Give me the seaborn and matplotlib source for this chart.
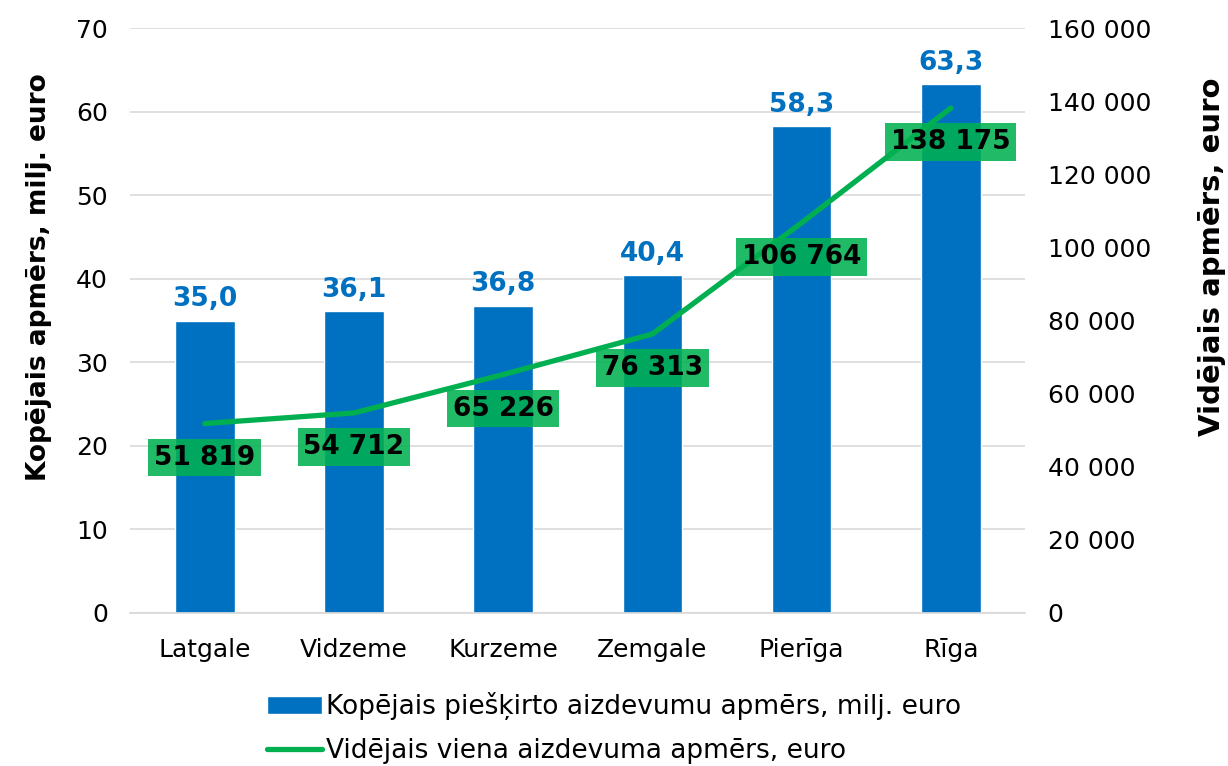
import matplotlib
matplotlib.use("Agg")
import matplotlib.pyplot as plt
import seaborn as sns
import pandas as pd
from matplotlib.ticker import FuncFormatter

regions = ["Latgale", "Vidzeme", "Kurzeme", "Zemgale", "Pierīga", "Rīga"]
total_mln = [35.0, 36.1, 36.8, 40.4, 58.3, 63.3]
avg_loan = [51819, 54712, 65226, 76313, 106764, 138175]

bar_label = "Kopējais piešķirto aizdevumu apmērs, milj. euro"
line_label = "Vidējais viena aizdevuma apmērs, euro"

df = pd.DataFrame({"region": regions, "total": total_mln, "avg": avg_loan})

sns.set_theme(style="white")
plt.rcParams['font.family'] = ['DejaVu Sans']

blue = "#0070C0"
green = "#00B050"

fig = plt.figure(figsize=(12.28, 7.66), dpi=100)
ax = fig.add_axes([0.106, 0.2, 0.729, 0.763])

sns.barplot(data=df, x="region", y="total", color=blue, saturation=1,
            width=0.4, ax=ax, label=bar_label, zorder=2)
ax.set_ylim(0, 70)
ax.set_yticks(range(0, 71, 10))
ax.yaxis.grid(True, color="#D9D9D9", lw=1.2, zorder=0)
ax.set_axisbelow(True)
for s in ax.spines.values():
    s.set_visible(False)
ax.spines["bottom"].set_visible(True)
ax.spines["bottom"].set_color("#D9D9D9")
ax.tick_params(axis="y", length=0, labelsize=18, pad=16, labelcolor="black")
ax.tick_params(axis="x", length=0, labelsize=18, pad=18, labelcolor="black")
ax.set_xlabel("")
ax.set_ylabel("Kopējais apmērs, milj. euro", fontsize=19, fontweight="bold", color="black")
ax.yaxis.set_label_coords(-0.087, 0.574)

# vērtības virs stabiņiem
for i, v in enumerate(total_mln):
    ax.annotate(f"{v:.1f}".replace(".", ","), (i, v), xytext=(0, 6),
                textcoords="offset points", ha="center", va="bottom",
                color=blue, fontsize=19, fontweight="bold")

ax2 = ax.twinx()
sns.lineplot(x=list(range(len(regions))), y=avg_loan, color=green, lw=3.8,
             ax=ax2, label=line_label, zorder=3)
ax2.set_ylim(0, 160000)
ax2.set_yticks(range(0, 160001, 20000))
ax2.yaxis.set_major_formatter(FuncFormatter(lambda v, p: f"{int(v):,}".replace(",", " ")))
for s in ax2.spines.values():
    s.set_visible(False)
ax2.tick_params(axis="both", length=0, labelsize=18, pad=16, labelcolor="black")
ax2.set_ylabel("Vidējais apmērs, euro", fontsize=21, fontweight="bold", color="black")
ax2.yaxis.set_label_coords(1.193, 0.61)
ax2.grid(False)

# vidējā aizdevuma etiķetes zem punktiem
for i, v in enumerate(avg_loan):
    ax2.annotate(f"{v:,}".replace(",", " "), (i, v), xytext=(0, -24.5),
                 textcoords="offset points", ha="center", va="center",
                 fontsize=19, fontweight="bold", color="black",
                 bbox=dict(boxstyle="square,pad=0.22", fc=green, ec="none", alpha=0.87))

ax.set_xlim(-0.5, 5.5)

h1, l1 = ax.get_legend_handles_labels()
h2, l2 = ax2.get_legend_handles_labels()
if ax.get_legend():
    ax.get_legend().remove()
if ax2.get_legend():
    ax2.get_legend().remove()
leg = fig.legend(h1 + h2, l1 + l2, loc="lower center", bbox_to_anchor=(0.5, -0.029),
                 ncol=1, frameon=False, fontsize=19, handlelength=2.1,
                 handletextpad=0.15, labelspacing=0.7)
for t in leg.get_texts():
    t.set_color("black")

fig.savefig("out.png", dpi=100)
